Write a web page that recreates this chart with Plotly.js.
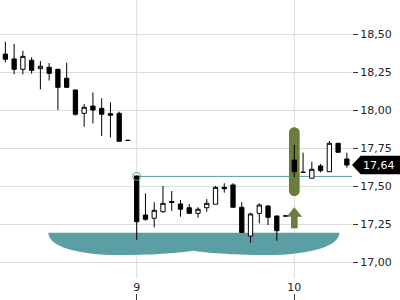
<!DOCTYPE html>
<html>
<head>
<meta charset="utf-8">
<script src="https://cdn.plot.ly/plotly-3.0.1.min.js"></script>
<style>
html,body{margin:0;padding:0;background:#fff;}
#chart{width:400px;height:300px;}
</style>
</head>
<body>
<div id="chart"></div>
<script>
// Bar index relative to start of day 9 (18 bars per day)
const barIndex = [-15,-14,-13,-12,-11,-10,-9,-8,-7,-6,-5,-4,-3,-2,-1,
                  0,1,2,3,4,5,6,7,8,9,10,11,12,13,14,15,16,17,
                  18,19,20,21,22,23,24];
const openVals  = [18.368,18.336,18.268,18.327,18.272,18.281,18.268,18.209,18.132,17.978,18.026,18.011,17.976,17.978,17.800,
                   17.566,17.309,17.288,17.331,17.398,17.382,17.357,17.320,17.357,17.380,17.491,17.507,17.360,17.171,17.320,17.368,17.303,17.303,
                   17.671,17.590,17.551,17.632,17.594,17.781,17.678];
const highVals  = [18.449,18.434,18.390,18.347,18.322,18.309,18.270,18.311,18.132,18.039,18.116,18.077,18.051,17.989,17.800,
                   17.566,17.452,17.393,17.500,17.467,17.408,17.380,17.360,17.414,17.500,17.518,17.518,17.393,17.324,17.386,17.375,17.303,17.303,
                   17.770,17.719,17.660,17.645,17.796,17.781,17.719];
const lowVals   = [18.314,18.235,18.235,18.239,18.136,18.194,18.000,18.149,17.963,17.890,17.912,17.829,17.820,17.794,17.800,
                   17.145,17.272,17.228,17.324,17.336,17.298,17.320,17.291,17.331,17.380,17.456,17.360,17.194,17.127,17.255,17.243,17.140,17.303,
                   17.557,17.590,17.551,17.590,17.594,17.722,17.620];
const closeVals = [18.334,18.268,18.353,18.261,18.288,18.241,18.149,18.149,17.972,18.018,18.000,17.972,17.965,17.794,17.800,
                   17.265,17.281,17.340,17.386,17.392,17.347,17.320,17.347,17.386,17.491,17.482,17.360,17.194,17.316,17.375,17.294,17.206,17.303,
                   17.594,17.590,17.610,17.601,17.781,17.722,17.638];
const barsPerDay = 18;
const dayTicks = [9, 10];
const dayTickText = ['9', '10'];
const yTickStart = 17.00, yTickStep = 0.25;

// Annotation data
const levelBar = 0;          // teal level starts at this bar
const levelValue = 17.563;   // teal horizontal level
const signalBar = 18;        // green pill / arrow bar
const pillTop = 17.886, pillBottom = 17.434;
const arrowTip = 17.360, arrowHeadBase = 17.298, arrowBottom = 17.222;
// teal zone: [start, left low, cusp, right low, end]
const zoneX = [8.439, 8.894, 9.359, 9.820, 10.286];
const zoneY = [17.193, 17.046, 17.074, 17.046, 17.193];

const xRange = [8.1326, 10.366];
const yRange = [16.75, 18.7237];

const xs = barIndex.map(i => 9 + i / barsPerDay);
const lastClose = closeVals[closeVals.length - 1];

const teal = '#5b9ea4';
const olive = '#6b7d3a';

// helpers for pixel-ish sizes in data units
const pxX = (xRange[1] - xRange[0]) / 352;
const pxY = (yRange[1] - yRange[0]) / 300;

// teal zone path
const [x0, x1, x2, x3, x4] = zoneX;
const [y0, y1, y2, y3, y4] = zoneY;
const zonePath =
  `M${x0},${y0} L${x4},${y4} ` +
  `C${x4},${y4 - 0.6 * (y4 - y3)} ${x3 + 0.6 * (x4 - x3)},${y3} ${x3},${y3} ` +
  `C${x3 - 0.5 * (x3 - x2)},${y3} ${x2 + 0.16 * (x3 - x2)},${y2 - 0.012} ${x2},${y2} ` +
  `C${x2 - 0.16 * (x2 - x1)},${y2 - 0.012} ${x1 + 0.5 * (x2 - x1)},${y1} ${x1},${y1} ` +
  `C${x1 - 0.6 * (x1 - x0)},${y1} ${x0},${y0 - 0.6 * (y0 - y1)} ${x0},${y0} Z`;

// green pill path
const sx = xs[barIndex.indexOf(signalBar)];
const hw = 5.35 * pxX, r = 5.35 * pxY, k = 0.5523;
const pillPath =
  `M${sx - hw},${pillBottom + r} L${sx - hw},${pillTop - r} ` +
  `C${sx - hw},${pillTop - r + k * r} ${sx - k * hw},${pillTop} ${sx},${pillTop} ` +
  `C${sx + k * hw},${pillTop} ${sx + hw},${pillTop - r + k * r} ${sx + hw},${pillTop - r} ` +
  `L${sx + hw},${pillBottom + r} ` +
  `C${sx + hw},${pillBottom + r - k * r} ${sx + k * hw},${pillBottom} ${sx},${pillBottom} ` +
  `C${sx - k * hw},${pillBottom} ${sx - hw},${pillBottom + r - k * r} ${sx - hw},${pillBottom + r} Z`;

// green arrow path
const ahw = 7.7 * pxX, shw = 3.3 * pxX;
const arrowPath =
  `M${sx},${arrowTip} L${sx + ahw},${arrowHeadBase} L${sx + shw},${arrowHeadBase} ` +
  `L${sx + shw},${arrowBottom} L${sx - shw},${arrowBottom} L${sx - shw},${arrowHeadBase} ` +
  `L${sx - ahw},${arrowHeadBase} Z`;

// price label (paper coords)
const yp = (lastClose - yRange[0]) / (yRange[1] - yRange[0]);
const bh = 9.2 / 300;
const lblPath =
  `M1.0,${yp} L${360.7 / 352},${yp + bh} L${400 / 352},${yp + bh} L${400 / 352},${yp - bh} L${360.7 / 352},${yp - bh} Z`;

const lx = xs[barIndex.indexOf(levelBar)];

const shapes = [];
dayTicks.forEach(d => shapes.push({
  type: 'line', xref: 'x', yref: 'paper', x0: d, x1: d, y0: 0.073, y1: 1,
  line: {color: '#dcdcdc', width: 1}, layer: 'below'
}));
shapes.push({type: 'path', xref: 'x', yref: 'y', path: zonePath, fillcolor: teal, line: {width: 0}, layer: 'between'});
shapes.push({type: 'line', xref: 'x', yref: 'y', x0: lx, x1: xRange[1], y0: levelValue, y1: levelValue,
  line: {color: teal, width: 1}, layer: 'between'});
shapes.push({type: 'path', xref: 'x', yref: 'y', path: pillPath, fillcolor: olive, line: {width: 0}, layer: 'between'});
shapes.push({type: 'path', xref: 'x', yref: 'y', path: arrowPath, fillcolor: olive, line: {width: 0}, layer: 'above'});
shapes.push({type: 'path', xref: 'paper', yref: 'paper', path: lblPath, fillcolor: '#000', line: {width: 0}, layer: 'above'});

const traces = [
  {
    type: 'candlestick',
    x: xs, open: openVals, high: highVals, low: lowVals, close: closeVals,
    increasing: {line: {color: '#000', width: 1}, fillcolor: '#fff'},
    decreasing: {line: {color: '#000', width: 1}, fillcolor: '#000'},
    whiskerwidth: 0,
    hoverinfo: 'skip',
    showlegend: false
  },
  {
    type: 'scatter', mode: 'markers',
    x: [lx], y: [levelValue],
    marker: {symbol: 'circle-open', size: 8, color: teal, line: {width: 1, color: teal}},
    hoverinfo: 'skip', showlegend: false
  }
];

const font = {family: 'DejaVu Sans', size: 11, color: '#222'};

const layout = {
  width: 400, height: 300,
  margin: {l: 0, r: 48, t: 0, b: 0, pad: 0},
  paper_bgcolor: '#fff', plot_bgcolor: '#fff',
  separators: ',.',
  showlegend: false,
  font: font,
  xaxis: {
    type: 'linear', range: xRange,
    tickvals: dayTicks, ticktext: dayTickText,
    ticks: 'inside', ticklen: 6, tickcolor: '#333', tickwidth: 1,
    ticklabelposition: 'inside',
    showgrid: false, zeroline: false, showline: false,
    tickfont: font,
    rangeslider: {visible: false},
    fixedrange: true
  },
  yaxis: {
    side: 'right', range: yRange,
    tick0: yTickStart, dtick: yTickStep, tickformat: '.2f',
    ticks: 'outside', ticklen: 5, tickcolor: '#333', tickwidth: 1,
    gridcolor: '#dcdcdc', gridwidth: 1,
    zeroline: false, showline: false,
    tickfont: font,
    fixedrange: true
  },
  shapes: shapes,
  annotations: [{
    xref: 'paper', yref: 'paper', x: 378.5 / 352, y: yp, xanchor: 'center', yanchor: 'middle',
    text: lastClose.toFixed(2).replace('.', ','), showarrow: false,
    font: {family: 'DejaVu Sans', size: 11, color: '#fff'}
  }]
};

Plotly.newPlot('chart', traces, layout, {displayModeBar: false, staticPlot: true});
</script>
</body>
</html>
